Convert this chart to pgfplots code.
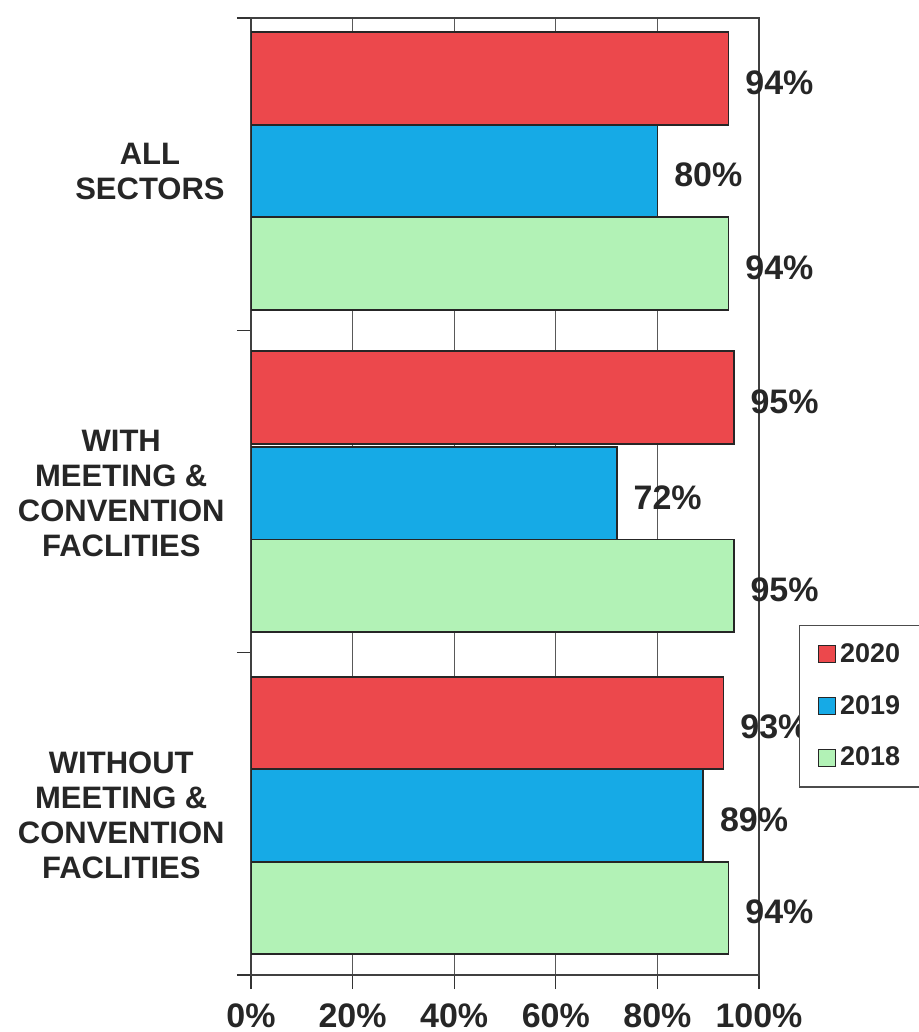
\documentclass[border=0pt]{standalone}
\usepackage{fontspec}
\setmainfont{Liberation Sans}
\usepackage{pgfplots}
\pgfplotsset{compat=1.18}
\definecolor{cRed}{RGB}{236,72,76}
\definecolor{cBlue}{RGB}{22,170,230}
\definecolor{cGreen}{RGB}{178,242,182}
\pgfplotsset{sqlegend/.style={legend image code/.code={\draw[line width=0.7pt,#1] (0pt,-4.25pt) rectangle (8.5pt,4.25pt);}}}
\begin{document}
\begin{tikzpicture}
\useasboundingbox (0,0) rectangle (459.5pt,516pt);
\clip (0,0) rectangle (459.5pt,516pt);
\begin{axis}[
  at={(125.5pt,28.5pt)}, anchor=south west,
  scale only axis, width=254pt, height=478.5pt,
  xbar, bar width=0.29, bar shift=0pt,
  xmin=0, xmax=100, ymin=-0.5, ymax=2.5, y dir=reverse,
  xtick={0,20,40,60,80,100},
  xticklabels={0\%,20\%,40\%,60\%,80\%,100\%},
  xticklabel style={font=\fontsize{17}{20}\selectfont\bfseries, text=black!85, inner sep=0pt, yshift=-7pt},
  ytick={-0.5,0.48,1.49,2.5}, yticklabels={},
  extra y ticks={-0.02,0.99,2.0},
  extra y tick labels={{ALL\\SECTORS},{WITH\\MEETING \&\\CONVENTION\\FACLITIES},{WITHOUT\\MEETING \&\\CONVENTION\\FACLITIES}},
  extra y tick style={major tick length=0pt, tick label style={align=center, font=\fontsize{15.5}{17.5}\selectfont\bfseries, text=black!85, inner sep=0pt, anchor=east, xshift=-13pt}},
  tick align=outside, tick pos=left, major tick length=7pt,
  tick style={black!80, line width=0.6pt},
  axis line style={black!75, line width=0.7pt},
  xmajorgrids, major grid style={black!65, line width=0.5pt},
  nodes near coords={\pgfmathprintnumber[assume math mode=true]{\pgfplotspointmeta}\%},
  point meta=x,
  every node near coord/.append style={font=\fontsize{17}{20}\selectfont\bfseries, text=black!85, anchor=west, inner sep=0pt, xshift=8pt, yshift=-2pt},
  legend style={at={(axis description cs:1.079,0.366)}, anchor=north west, draw=black!70, line width=0.6pt, fill=white,
    font=\fontsize{13.5}{16}\selectfont\bfseries, text=black!85, row sep=11pt, inner xsep=9pt, inner ysep=7pt},
  legend cell align=left,
]
\addplot[fill=cRed, draw=black!85, line width=0.9pt, sqlegend] coordinates {(94,-0.31) (95,0.69) (93,1.71)};
\addlegendentry{\makebox[70pt][l]{2020}}
\addplot[fill=cBlue, draw=black!85, line width=0.9pt, sqlegend] coordinates {(80,-0.02) (72,0.99) (89,2.0)};
\addlegendentry{\makebox[70pt][l]{2019}}
\addplot[fill=cGreen, draw=black!85, line width=0.9pt, sqlegend] coordinates {(94,0.27) (95,1.28) (94,2.29)};
\addlegendentry{\makebox[70pt][l]{2018}}
\end{axis}
\end{tikzpicture}
\end{document}
